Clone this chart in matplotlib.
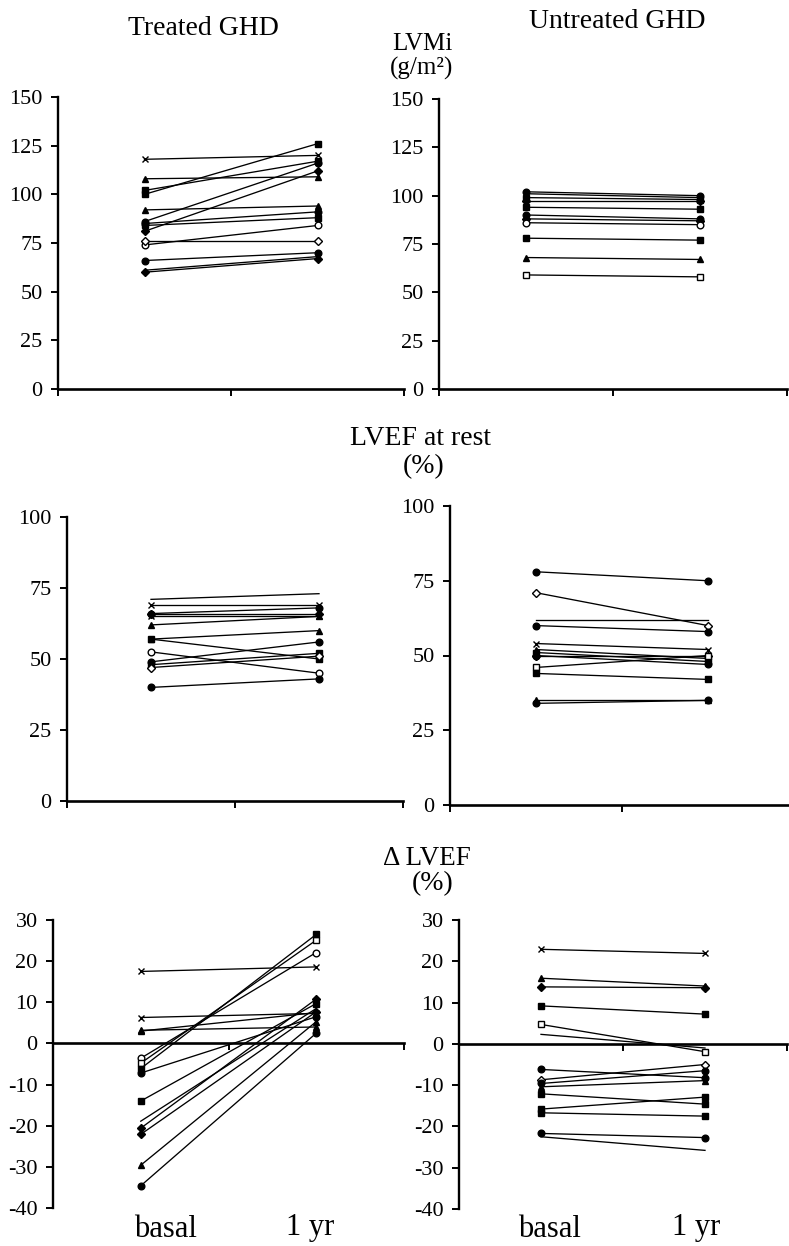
# Paired basal vs 1-yr plots: LVMi, LVEF at rest and delta LVEF, treated vs untreated GHD.
import matplotlib
matplotlib.use("Agg")
import matplotlib.pyplot as plt

plt.rcParams.update({"font.family": ["Liberation Serif", "DejaVu Serif"],
                     "font.size": 16, "axes.unicode_minus": False})

W, H = 789, 1246

# ---- data (basal, 1 yr) per subject; marker code per subject ----
# marker codes: o filled circle, O open circle, s filled square, S open square,
# d filled diamond, D open diamond, ^ triangle, x cross, "" no marker
LVMI_T_BASAL = [118, 100, 108, 102, 92, 86, 81, 85, 84, 74, 76, 66, 61, 60]
LVMI_T_1YR = [120, 126, 109, 117, 94, 116, 112, 91, 88, 84, 76, 70, 68, 67]
LVMI_T_MK = ["x", "s", "^", "s", "^", "o", "d", "o", "s", "O", "D", "o", "", "d"]

LVMI_U_BASAL = [102, 101, 99, 97, 94, 90, 88, 86, 78, 68, 59]
LVMI_U_1YR = [100, 99, 98, 97, 93, 88, 87, 85, 77, 67, 58]
LVMI_U_MK = ["o", "^", "s", "d", "s", "o", "d", "O", "s", "^", "S"]

LVEF_T_BASAL = [71, 69, 66, 66, 65, 62, 57, 57, 52.5, 49, 48, 47, 40]
LVEF_T_1YR = [73, 69, 68, 66, 65, 65, 60, 50, 45, 56, 52, 51, 43]
LVEF_T_MK = ["", "x", "o", "d", "x", "^", "^", "s", "O", "o", "s", "D", "o"]

LVEF_U_BASAL = [78, 71, 62, 60, 54, 52, 51, 50, 50, 46, 44, 35, 34]
LVEF_U_1YR = [75, 60, 62, 58, 52, 49, 48, 47, 50, 50, 42, 35, 35]
LVEF_U_MK = ["o", "D", "", "o", "x", "^", "s", "o", "d", "S", "s", "^", "o"]

DLVEF_T_BASAL = [17.5, 6.3, 3.2, 3.0, -3.6, -4.8, -6.1, -7.2, -14, -18.9,
                 -20.6, -22.1, -29.6, -34.6]
DLVEF_T_1YR = [18.6, 7.3, 4.0, 7.5, 22.1, 25.1, 26.5, 6.5, 9.7, 8.5,
               10.8, 7.7, 5.3, 2.5]
DLVEF_T_MK = ["x", "x", "^", "^", "O", "S", "s", "o", "s", "", "d", "d", "^", "o"]

DLVEF_U_BASAL = [22.9, 15.9, 13.8, 9.2, 4.7, 2.3, -6.2, -8.7, -9.6, -10.4,
                 -12.1, -15.8, -16.7, -21.7, -22.5]
DLVEF_U_1YR = [21.9, 14.0, 13.6, 7.2, -1.9, -1.0, -8.2, -5.0, -6.5, -8.9,
               -14.6, -12.9, -17.5, -22.7, -25.8]
DLVEF_U_MK = ["x", "^", "d", "s", "S", "", "o", "D", "o", "^", "s", "s", "s", "o", ""]

MK = {"o": ("o", True), "O": ("o", False), "s": ("s", True), "S": ("s", False),
      "d": ("D", True), "D": ("D", False), "^": ("^", True), "x": ("x", True),
      "": (None, True)}


def px_axes(x0, x1, ytop, ybot):
    return fig.add_axes([x0 / W, 1 - ybot / H, (x1 - x0) / W, (ybot - ytop) / H])


def panel(ax, basal, yr, mks, ymin, ymax, step, zero=False, xmax=2.0):
    for b, a, m in zip(basal, yr, mks):
        mk, filled = MK[m]
        ax.plot([0.5, 1.5], [b, a], color="black", lw=0.95, marker=mk,
                ms=4.8 if mk != "D" else 4.0, mfc="black" if filled else "white",
                mec="black", mew=1.0, clip_on=False)
    ax.set_xlim(0, xmax)
    ax.set_ylim(ymin, ymax)
    for s in ("top", "right"):
        ax.spines[s].set_visible(False)
    ax.spines["left"].set_linewidth(1.7)
    ax.spines["bottom"].set_linewidth(1.9)
    if zero:
        ax.spines["bottom"].set_position(("data", 0))
    ax.set_xticks([t for t in (0, 1, 2) if t <= xmax])
    ax.set_xticklabels([])
    ax.set_yticks(range(ymin, ymax + 1, step))
    ax.tick_params(direction="out", length=5, width=1.4, labelsize=16, pad=6)
    ax.patch.set_alpha(0)


fig = plt.figure(figsize=(W / 100, H / 100), dpi=100)

panel(px_axes(58, 404, 97, 389), LVMI_T_BASAL, LVMI_T_1YR, LVMI_T_MK, 0, 150, 25)
panel(px_axes(439, 787, 99, 389), LVMI_U_BASAL, LVMI_U_1YR, LVMI_U_MK, 0, 150, 25)
panel(px_axes(67, 403, 517, 801), LVEF_T_BASAL, LVEF_T_1YR, LVEF_T_MK, 0, 100, 25)
panel(px_axes(450, 788, 506, 805), LVEF_U_BASAL, LVEF_U_1YR, LVEF_U_MK, 0, 100, 25,
      xmax=1.965)
panel(px_axes(53, 404, 920, 1208), DLVEF_T_BASAL, DLVEF_T_1YR, DLVEF_T_MK, -40, 30, 10,
      zero=True)
panel(px_axes(459, 787, 920, 1209), DLVEF_U_BASAL, DLVEF_U_1YR, DLVEF_U_MK, -40, 30, 10,
      zero=True)


def label(x, y, s, size=20):
    fig.text(x / W, 1 - y / H, s, ha="center", va="baseline", fontsize=size)


label(203, 35, "Treated GHD")
label(617, 28, "Untreated GHD")
label(422, 50, "LVMi", 18)
label(422, 75, "(g/m²)", 18)
label(420, 445, "LVEF at rest")
label(424, 473, "(%)")
label(427, 865, "Δ LVEF", 19.5)
label(433, 890, "(%)")
for xb, xy in ((165, 310), (549, 696)):
    label(xb, 1237, "basal", 22)
    label(xy, 1235, "1 yr", 22)

fig.savefig("out.png", dpi=100)
